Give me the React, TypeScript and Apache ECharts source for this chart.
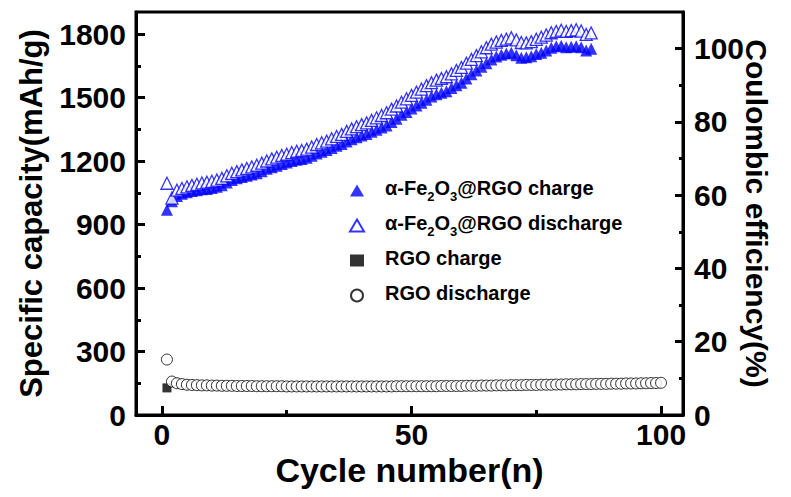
import React, { useEffect, useRef } from "react";
import * as echarts from "echarts";

// Cycle-wise capacities (mAh/g)
const feCharge: number[] = [
  970, 1010, 1035, 1045, 1052, 1058, 1062, 1066, 1068, 1072,
  1078, 1085, 1098, 1110, 1118, 1125, 1130, 1136, 1142, 1152,
  1163, 1170, 1178, 1186, 1193, 1200, 1206, 1210, 1215, 1225,
  1236, 1244, 1252, 1262, 1272, 1280, 1292, 1303, 1312, 1320,
  1328, 1338, 1348, 1358, 1368, 1384, 1400, 1418, 1432, 1448,
  1462, 1475, 1490, 1505, 1515, 1522, 1530, 1545, 1558, 1570,
  1590, 1610, 1628, 1645, 1662, 1680, 1694, 1702, 1708, 1712,
  1700, 1688, 1690, 1695, 1705, 1712, 1722, 1735, 1742, 1745,
  1738, 1740, 1742, 1738, 1722, 1730,
];
const feDischarge: number[] = [
  1095, 1025, 1062, 1070, 1078, 1085, 1090, 1096, 1100, 1104,
  1110, 1118, 1130, 1142, 1150, 1158, 1165, 1172, 1180, 1190,
  1200, 1210, 1218, 1226, 1232, 1240, 1246, 1250, 1256, 1266,
  1278, 1286, 1294, 1305, 1316, 1326, 1340, 1352, 1362, 1372,
  1380, 1392, 1404, 1415, 1428, 1445, 1460, 1478, 1494, 1510,
  1525, 1540, 1556, 1570, 1582, 1590, 1598, 1612, 1628, 1642,
  1662, 1680, 1698, 1716, 1735, 1752, 1762, 1770, 1776, 1782,
  1772, 1760, 1758, 1764, 1775, 1785, 1795, 1806, 1812, 1818,
  1812, 1816, 1820, 1814, 1798, 1805,
];
const rgoCharge: number[] = [128];
const rgoDischarge: number[] = [
  262, 158, 150, 146, 143, 142, 141, 140, 140, 139,
  139, 138, 138, 138, 137, 137, 137, 137, 136, 136,
  136, 136, 136, 136, 135, 135, 135, 135, 135, 135,
  135, 135, 135, 135, 135, 135, 135, 135, 135, 135,
  135, 135, 135, 135, 135, 135, 136, 136, 136, 136,
  136, 136, 136, 136, 136, 137, 137, 137, 137, 137,
  138, 138, 138, 139, 139, 139, 140, 140, 140, 141,
  141, 141, 142, 142, 142, 143, 143, 143, 144, 144,
  145, 145, 145, 146, 146, 146, 147, 147, 147, 148,
  148, 148, 149, 149, 149, 150, 150, 151, 151, 152,
];

const xTicks = [0, 50, 100];
const xMinorTicks = [25, 75];
const yLeftTicks = [0, 300, 600, 900, 1200, 1500, 1800];
const yLeftMinorTicks = [150, 450, 750, 1050, 1350, 1650];
const yRightTicks = [0, 20, 40, 60, 80, 100];
const yRightMinorTicks = [10, 30, 50, 70, 90];

const seriesNames = [
  "α-Fe2O3@RGO charge",
  "α-Fe2O3@RGO discharge",
  "RGO charge",
  "RGO discharge",
];

const FONT = "'Liberation Sans', Arial, sans-serif";

const toPoints = (arr: number[]) => arr.map((v, i) => [i + 1, v]);

export default function App() {
  const ref = useRef<HTMLDivElement>(null);
  useEffect(() => {
    if (!ref.current) return;
    const chart = echarts.init(ref.current, undefined, { renderer: "svg" });
    const axisLineStyle = { color: "#000", width: 3 };
    const tickLabel = {
      fontSize: 30, fontWeight: "bold" as const, color: "#000", fontFamily: FONT,
      formatter: (v: number) => String(v),
    };
    const xMin = -5.2, xMax = 104.4, yMax = 1904, rMax = 110;
    const legendText = { fontWeight: "bold" as const, color: "#000", fontFamily: FONT };
    chart.setOption({
      animation: false,
      backgroundColor: "#fff",
      grid: {
        left: 136, top: 12, width: 547, height: 403,
        show: true, borderColor: "#000", borderWidth: 3, backgroundColor: "transparent",
      },
      legend: {
        orient: "vertical",
        left: 344,
        top: 173,
        itemWidth: 14,
        itemHeight: 12,
        itemGap: 10,
        data: seriesNames,
        textStyle: {
          ...legendText, fontSize: 20, lineHeight: 22,
          rich: {
            p: { fontSize: 20, lineHeight: 25, width: 16, verticalAlign: "top" },
            a: { ...legendText, fontSize: 20, lineHeight: 22, verticalAlign: "top" },
            s: { ...legendText, fontSize: 13, lineHeight: 13, padding: [12, 0, 0, 0], verticalAlign: "top" },
          },
        },
        formatter: (name: string) => {
          if (name.startsWith("α-Fe2O3")) {
            return "{p|}{a|α-Fe}{s|2}{a|O}{s|3}{a|" + name.slice(7) + "}";
          }
          return "{p|}{a|" + name + "}";
        },
      },
      xAxis: [
        {
          type: "value", min: xMin, max: xMax, position: "bottom",
          axisLine: { show: true, onZero: false, lineStyle: axisLineStyle },
          axisTick: { show: true, inside: true, length: 9, customValues: xTicks, lineStyle: { width: 3, color: "#000" } },
          axisLabel: { ...tickLabel, margin: 8, lineHeight: 22, customValues: xTicks },
          splitLine: { show: false },
          name: "Cycle number(n)", nameLocation: "middle", nameGap: 38, nameMoveOverlap: false,
          nameTextStyle: { fontSize: 34, lineHeight: 34, fontWeight: "bold", color: "#000", fontFamily: FONT },
        },
        {
          type: "value", min: xMin, max: xMax, position: "bottom",
          axisLine: { show: false, onZero: false },
          axisTick: { show: true, inside: true, length: 5, customValues: xMinorTicks, lineStyle: { width: 3, color: "#000" } },
          axisLabel: { show: false },
          splitLine: { show: false },
        },
      ],
      yAxis: [
        {
          type: "value", min: 0, max: yMax, position: "left",
          axisLine: { show: true, onZero: false, lineStyle: axisLineStyle },
          axisTick: { show: true, inside: true, length: 9, customValues: yLeftTicks, lineStyle: { width: 3, color: "#000" } },
          axisLabel: { ...tickLabel, margin: 10, customValues: yLeftTicks },
          splitLine: { show: false },
          name: "Specific capacity(mAh/g)", nameLocation: "middle", nameGap: 89, nameMoveOverlap: false,
          nameTextStyle: { fontSize: 31, fontWeight: "bold", color: "#000", fontFamily: FONT },
        },
        {
          type: "value", min: 0, max: yMax, position: "left",
          axisLine: { show: false, onZero: false },
          axisTick: { show: true, inside: true, length: 5, customValues: yLeftMinorTicks, lineStyle: { width: 3, color: "#000" } },
          axisLabel: { show: false },
          splitLine: { show: false },
        },
        {
          type: "value", min: 0, max: rMax, position: "right",
          axisLine: { show: true, onZero: false, lineStyle: axisLineStyle },
          axisTick: { show: true, inside: true, length: 8, customValues: yRightTicks, lineStyle: { width: 3, color: "#000" } },
          axisLabel: { ...tickLabel, margin: 11, customValues: yRightTicks },
          splitLine: { show: false },
          name: "Coulombic efficiency(%)", nameLocation: "middle", nameGap: 58, nameRotate: -90, nameMoveOverlap: false,
          nameTextStyle: { fontSize: 30, fontWeight: "bold", color: "#000", fontFamily: FONT },
        },
        {
          type: "value", min: 0, max: rMax, position: "right",
          axisLine: { show: false, onZero: false },
          axisTick: { show: true, inside: true, length: 4, customValues: yRightMinorTicks, lineStyle: { width: 3, color: "#000" } },
          axisLabel: { show: false },
          splitLine: { show: false },
        },
      ],
      series: [
        {
          name: seriesNames[0], type: "scatter", symbol: "triangle", symbolSize: 12,
          itemStyle: { color: "#0000ff" }, data: toPoints(feCharge),
        },
        {
          name: seriesNames[1], type: "scatter", symbol: "triangle", symbolSize: 12,
          itemStyle: { color: "#ffffff", borderColor: "#0000ff", borderWidth: 1.3 }, data: toPoints(feDischarge),
        },
        {
          name: seriesNames[2], type: "scatter", symbol: "rect", symbolSize: 9,
          itemStyle: { color: "#000" }, data: toPoints(rgoCharge),
        },
        {
          name: seriesNames[3], type: "scatter", symbol: "circle", symbolSize: 11,
          itemStyle: { color: "#ffffff", borderColor: "#000", borderWidth: 1 }, data: toPoints(rgoDischarge),
        },
      ],
    });
    return () => chart.dispose();
  }, []);
  return <div ref={ref} style={{ width: 791, height: 497, margin: -8 }} />;
}
